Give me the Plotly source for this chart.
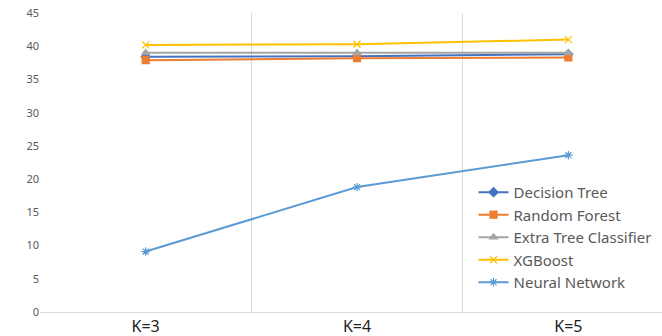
import plotly.graph_objects as go

categories = ["K=3", "K=4", "K=5"]
decision_tree = [38.4, 38.5, 38.8]
random_forest = [37.9, 38.2, 38.3]
extra_tree = [39.0, 39.0, 39.0]
xgboost = [40.2, 40.3, 41.0]
neural_network = [9.1, 18.8, 23.6]

series = [
    ("Decision Tree", decision_tree, "#4472C4", "diamond"),
    ("Random Forest", random_forest, "#ED7D31", "square"),
    ("Extra Tree Classifier", extra_tree, "#A5A5A5", "triangle-up"),
    ("XGBoost", xgboost, "#FFC000", "x-thin"),
    ("Neural Network", neural_network, "#5B9BD5", "asterisk"),
]

fig = go.Figure()
for name, vals, color, sym in series:
    fig.add_trace(go.Scatter(
        x=categories, y=vals, name=name, mode="lines+markers",
        line=dict(color=color, width=2),
        marker=dict(symbol=sym, size=7, color=color,
                    line=dict(color=color, width=1.2)),
    ))

fig.update_layout(
    width=662, height=336,
    margin=dict(l=40, r=0, t=13, b=24),
    paper_bgcolor="white", plot_bgcolor="white",
    font=dict(family="Noto Sans", color="#595959"),
    showlegend=True,
    legend=dict(x=0.697, y=0.455, xanchor="left", yanchor="top",
                font=dict(size=15, color="#595959"),
                tracegroupgap=0,
                bgcolor="rgba(0,0,0,0)"),
    xaxis=dict(type="category", range=[-0.5, 2.443], tickson="boundaries",
               showgrid=True, gridcolor="#D9D9D9", gridwidth=1,
               showline=True, linecolor="#D9D9D9", ticks="",
               tickfont=dict(size=16, color="#222222"), zeroline=False),
    yaxis=dict(range=[0, 45], dtick=5, showgrid=False, zeroline=False,
               showline=False, ticks="", tickfont=dict(size=11, color="#595959")),
)

fig.write_html("out.html", config={"displayModeBar": False},
               post_script="document.body.style.margin='0';document.body.style.overflow='hidden';")
